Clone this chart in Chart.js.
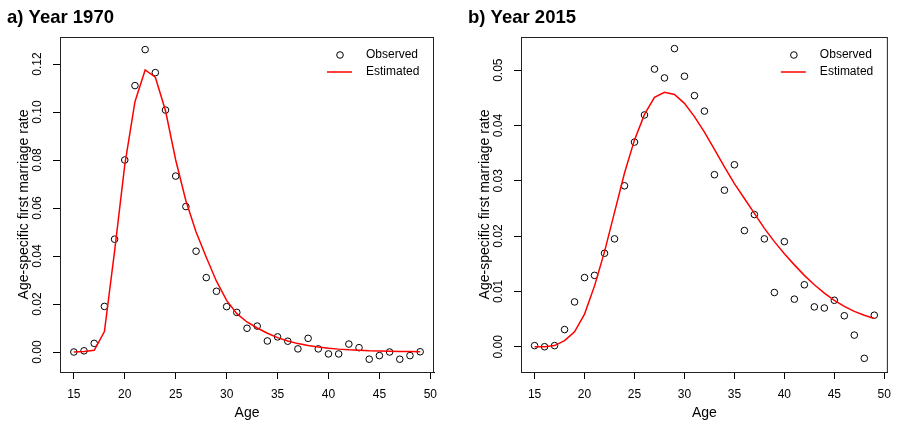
<!DOCTYPE html>
<html>
<head>
<meta charset="utf-8">
<script src="https://cdn.jsdelivr.net/npm/chart.js@4"></script>
<style>
  body { margin: 0; background: #fff; }
  canvas { position: absolute; top: 0; }
  #chartA { left: 0; }
  #chartB { left: 449px; }
</style>
</head>
<body>
<canvas id="chartA" width="449" height="424"></canvas>
<canvas id="chartB" width="450" height="424"></canvas>
<script>
// first marriage rates by age, two years side by side
const ages = [15, 16, 17, 18, 19, 20, 21, 22, 23, 24, 25, 26, 27, 28, 29, 30, 31, 32,
              33, 34, 35, 36, 37, 38, 39, 40, 41, 42, 43, 44, 45, 46, 47, 48, 49];

const observed1970 = [0.0000, 0.0005, 0.0036, 0.0190, 0.0470, 0.0800, 0.1110, 0.1260, 0.1164,
                      0.1008, 0.0733, 0.0606, 0.0420, 0.0310, 0.0253, 0.0189, 0.0165, 0.0099,
                      0.0108, 0.0046, 0.0063, 0.0045, 0.0013, 0.0057, 0.0013, -0.0008, -0.0008,
                      0.0033, 0.0018, -0.0030, -0.0015, 0.0000, -0.0030, -0.0015, 0.0001];
const estimated1970 = [0.0000, 0.0002, 0.0007, 0.0085, 0.0420, 0.0780, 0.1043, 0.1175, 0.1145,
                       0.1005, 0.0800, 0.0630, 0.0500, 0.0395, 0.0295, 0.0215, 0.0160, 0.0125,
                       0.0100, 0.0078, 0.0060, 0.0046, 0.0035, 0.0027, 0.0021, 0.0016, 0.0012,
                       0.0009, 0.0007, 0.0005, 0.0004, 0.0003, 0.0002, 0.0002, 0.0001];

const observed2015 = [0.0002, 0.0000, 0.0002, 0.0031, 0.0081, 0.0125, 0.0129, 0.0169, 0.0195,
                      0.0291, 0.0370, 0.0419, 0.0502, 0.0486, 0.0539, 0.0489, 0.0454, 0.0426,
                      0.0311, 0.0283, 0.0329, 0.0210, 0.0239, 0.0195, 0.0098, 0.0190, 0.0086,
                      0.0112, 0.0072, 0.0070, 0.0084, 0.0056, 0.0021, -0.0021, 0.0057];
const estimated2015 = [0.0000, 0.0000, 0.0002, 0.0011, 0.0027, 0.0059, 0.0110, 0.0172, 0.0243,
                       0.0314, 0.0374, 0.0420, 0.0451, 0.0460, 0.0456, 0.0440, 0.0416, 0.0388,
                       0.0357, 0.0325, 0.0295, 0.0268, 0.0241, 0.0214, 0.0190, 0.0168, 0.0148,
                       0.0129, 0.0112, 0.0097, 0.0084, 0.0073, 0.0064, 0.0057, 0.0051];

const ageTicks = [15, 20, 25, 30, 35, 40, 45, 50];
const rateTicks1970 = [0.00, 0.02, 0.04, 0.06, 0.08, 0.10, 0.12];
const rateTicks2015 = [0.00, 0.01, 0.02, 0.03, 0.04, 0.05];

Chart.defaults.font.family = '"Liberation Sans", Arial, Helvetica, sans-serif';
Chart.defaults.color = '#000';

// box round the plot + the little legend in the top right corner
const boxAndLegend = {
    id: 'boxAndLegend',
    afterDatasetsDraw(chart) {
        const ctx = chart.ctx;
        const area = chart.chartArea;
        const sets = chart.data.datasets;
        ctx.save();
        ctx.strokeStyle = '#222';
        ctx.lineWidth = 1;
        ctx.strokeRect(area.left + 0.5, area.top + 0.5, area.right - area.left - 1, area.bottom - area.top);

        ctx.font = '12px "Liberation Sans", Arial, sans-serif';
        ctx.textBaseline = 'middle';
        ctx.fillStyle = '#000';
        let y = area.top + 18;
        ctx.beginPath();
        ctx.arc(area.right - 94, y, 3.3, 0, Math.PI * 2);
        ctx.strokeStyle = sets[0].borderColor;
        ctx.stroke();
        ctx.fillText(sets[0].label, area.right - 68, y);

        y = area.top + 35;
        ctx.beginPath();
        ctx.moveTo(area.right - 107, y);
        ctx.lineTo(area.right - 82, y);
        ctx.strokeStyle = sets[1].borderColor;
        ctx.lineWidth = 1.5;
        ctx.stroke();
        ctx.fillText(sets[1].label, area.right - 68, y);
        ctx.restore();
    }
};

function toPoints(values) {
    return ages.map((a, i) => ({x: a, y: values[i]}));
}

function makePanel(canvasId, title, observed, estimated, rateTicks, yMin, yMax, padLeft, padRight) {
    const canvas = document.getElementById(canvasId);
    return new Chart(canvas, {
        type: 'line',
        data: {
            datasets: [{
                label: 'Observed',
                data: toPoints(observed),
                showLine: false,
                borderColor: '#000',
                backgroundColor: 'rgba(0,0,0,0)',
                pointRadius: 3.3,
                pointBorderWidth: 1,
                pointBackgroundColor: 'rgba(0,0,0,0)',
                order: 2
            }, {
                label: 'Estimated',
                data: toPoints(estimated),
                borderColor: '#ff0000',
                borderWidth: 1.5,
                pointRadius: 0,
                tension: 0,
                fill: false,
                order: 1
            }]
        },
        options: {
            responsive: false,
            animation: false,
            devicePixelRatio: 1,
            layout: { padding: { left: padLeft, right: padRight, top: 0, bottom: 0 } },
            plugins: {
                legend: { display: false },
                tooltip: { enabled: false },
                title: {
                    display: true,
                    text: title,
                    align: 'start',
                    color: '#000',
                    font: { size: 18.5, weight: 'bold' },
                    padding: { top: 6.5, bottom: 8.3 }
                }
            },
            scales: {
                x: {
                    type: 'linear',
                    min: 13.64,
                    max: 50.36,
                    afterBuildTicks: (scale) => { scale.ticks = ageTicks.map(v => ({value: v})); },
                    afterFit: (scale) => { scale.height = 52; },
                    grid: { drawOnChartArea: false, tickLength: 7, color: '#000' },
                    border: { display: true, color: '#000' },
                    ticks: { font: { size: 12 }, padding: 8, maxRotation: 0, callback: (v) => String(v) },
                    title: { display: true, text: 'Age', font: { size: 14 }, padding: { top: 0, bottom: 2.6 } }
                },
                y: {
                    type: 'linear',
                    min: yMin,
                    max: yMax,
                    afterBuildTicks: (scale) => { scale.ticks = rateTicks.map(v => ({value: v})); },
                    afterFit: (scale) => { scale.width = 53; },
                    grid: { drawOnChartArea: false, tickLength: 7, color: '#000' },
                    border: { display: true, color: '#000' },
                    ticks: {
                        font: { size: 12 },
                        minRotation: 90,
                        maxRotation: 90,
                        crossAlign: 'center',
                        padding: 4,
                        callback: (v) => Number(v).toFixed(2)
                    },
                    title: {
                        display: true,
                        text: 'Age-specific first marriage rate',
                        font: { size: 14 },
                        padding: { top: 9, bottom: 0 }
                    }
                }
            }
        },
        plugins: [boxAndLegend]
    });
}

makePanel('chartA', 'a) Year 1970', observed1970, estimated1970, rateTicks1970, -0.00833, 0.13125, 7, 15);
makePanel('chartB', 'b) Year 2015', observed2015, estimated2015, rateTicks2015, -0.00457, 0.0560, 19, 4);
</script>
</body>
</html>
